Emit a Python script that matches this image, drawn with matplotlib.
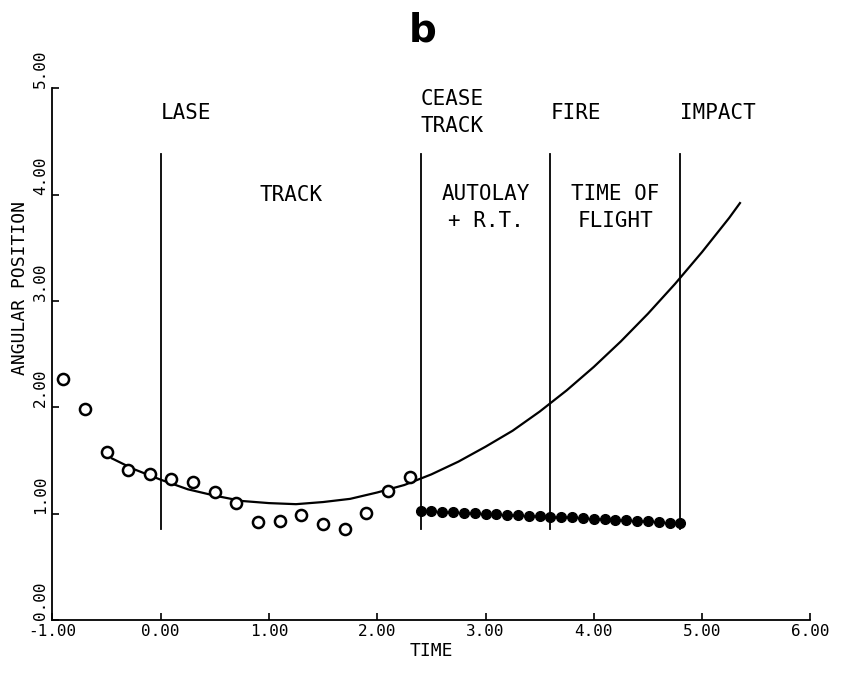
import matplotlib
matplotlib.use("Agg")
import matplotlib.pyplot as plt

# measured (open circles)
meas_t = [-0.9, -0.7, -0.5, -0.3, -0.1, 0.1, 0.3, 0.5, 0.7, 0.9, 1.1, 1.3, 1.5, 1.7, 1.9, 2.1, 2.3]
meas_pos = [2.27, 1.98, 1.58, 1.41, 1.37, 1.33, 1.30, 1.20, 1.10, 0.92, 0.93, 0.99, 0.90, 0.86, 1.01, 1.21, 1.35]

# fitted track curve
fit_t = [-0.45, -0.25, 0.0, 0.25, 0.5, 0.75, 1.0, 1.25, 1.5, 1.75, 2.0, 2.25, 2.5, 2.75,
         3.0, 3.25, 3.5, 3.75, 4.0, 4.25, 4.5, 4.75, 5.0, 5.25, 5.35]
fit_pos = [1.52, 1.42, 1.32, 1.23, 1.17, 1.12, 1.10, 1.09, 1.11, 1.14, 1.20, 1.27, 1.37, 1.49,
           1.63, 1.78, 1.96, 2.16, 2.38, 2.62, 2.88, 3.16, 3.46, 3.78, 3.92]

# gun laid positions (filled dots)
lay_t = [2.4, 2.5, 2.6, 2.7, 2.8, 2.9, 3.0, 3.1, 3.2, 3.3, 3.4, 3.5, 3.6,
         3.7, 3.8, 3.9, 4.0, 4.1, 4.2, 4.3, 4.4, 4.5, 4.6, 4.7, 4.8]
lay_pos = [1.025, 1.025, 1.02, 1.015, 1.01, 1.005, 1.0, 0.995, 0.99, 0.985, 0.98, 0.975, 0.97,
           0.965, 0.965, 0.96, 0.955, 0.95, 0.945, 0.94, 0.935, 0.93, 0.925, 0.915, 0.91]

# event markers
event_t = [0.0, 2.4, 3.6, 4.8]
event_names = ["LASE", "CEASE\nTRACK", "FIRE", "IMPACT"]
phase_t = [1.2, 3.0, 4.2]
phase_names = ["TRACK", "AUTOLAY\n+ R.T.", "TIME OF\nFLIGHT"]

xticks = [-1, 0, 1, 2, 3, 4, 5, 6]
yticks = [0, 1, 2, 3, 4, 5]

mono = "DejaVu Sans Mono"

fig = plt.figure(figsize=(8.45, 6.86), dpi=100)
ax = fig.add_axes([0.062, 0.096, 0.897, 0.7755])

ax.plot(fit_t, fit_pos, color="black", lw=1.6)
ax.plot(meas_t, meas_pos, "o", mfc="white", mec="black", mew=1.8, ms=8)
ax.plot(lay_t, lay_pos, "o", color="black", ms=7)

for t in event_t:
    ax.plot([t, t], [0.86, 4.38], color="black", lw=1.3)
for t, name in zip(event_t, event_names):
    ax.text(t, 4.77, name, ha="left", va="center", fontsize=15, family=mono, linespacing=1.45)
for t, name in zip(phase_t, phase_names):
    ax.text(t, 3.88 if "\n" in name else 4.0, name, ha="center", va="center",
            fontsize=15, family=mono, linespacing=1.45)

ax.set_xlim(-1, 6)
ax.set_ylim(0, 5)
ax.set_xticks(xticks)
ax.set_yticks(yticks)
ax.set_xticklabels(["%.2f" % v for v in xticks], family=mono, fontsize=11.5)
ax.set_yticklabels(["%.2f" % v for v in yticks], family=mono, fontsize=11.5,
                   rotation=90, va="bottom")
ax.tick_params(direction="in", length=5, width=1.2, pad=3)
for s in ["top", "right"]:
    ax.spines[s].set_visible(False)
for s in ["left", "bottom"]:
    ax.spines[s].set_linewidth(1.3)

ax.set_xlabel("TIME", family=mono, fontsize=13, labelpad=2)
fig.text(0.024, 0.58, "ANGULAR POSITION", rotation=90, ha="center", va="center",
         family=mono, fontsize=13)
fig.text(0.5, 0.955, "b", ha="center", va="center", fontsize=28, fontweight="bold")

fig.savefig("out.png", dpi=100)
